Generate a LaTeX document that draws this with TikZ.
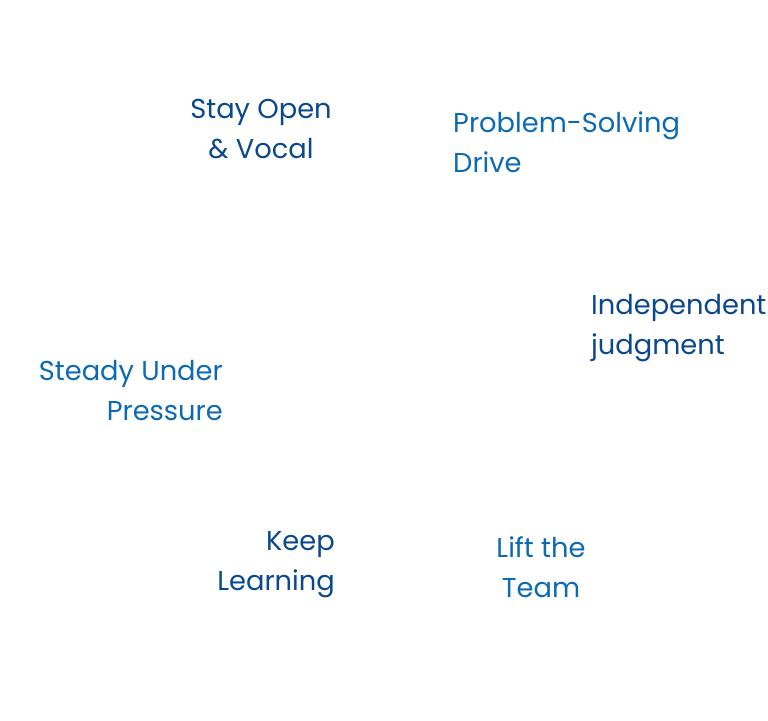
\documentclass[tikz,border=0pt]{standalone}
\usepackage{fontspec}
\setmainfont{Poppins}
\definecolor{darkblue}{RGB}{10,72,140}
\definecolor{midblue}{RGB}{12,106,180}
\tikzset{
  lbl/.style={inner sep=0pt,font=\fontsize{27.3}{40}\selectfont},
  lbldark/.style={lbl,text=darkblue},
  lbllight/.style={lbl,text=midblue},
}

\begin{document}
\begin{tikzpicture}[x=1pt,y=1pt,yscale=-1,xscale=1]
%set diagram left start at 0, and has height of 720
\useasboundingbox (0,0) rectangle (768,720);

%Text: top left
\node [lbldark,align=center] (open) at (261,129) {Stay Open\\\& Vocal};
%Text: top right
\node [lbllight,align=left,anchor=west] (solve) at (453,142) {Problem-Solving\\Drive};
%Text: right
\node [lbldark,align=left,anchor=west] (judge) at (591,328) {Independent\\judgment};
%Text: left
\node [lbllight,align=right,anchor=east] (steady) at (223,391) {Steady Under\\Pressure};
%Text: bottom left
\node [lbldark,align=right,anchor=east] (learn) at (335,565) {Keep\\Learning};
%Text: bottom right
\node [lbllight,align=center] (team) at (541,567) {Lift the\\Team};

\end{tikzpicture}
\end{document}
